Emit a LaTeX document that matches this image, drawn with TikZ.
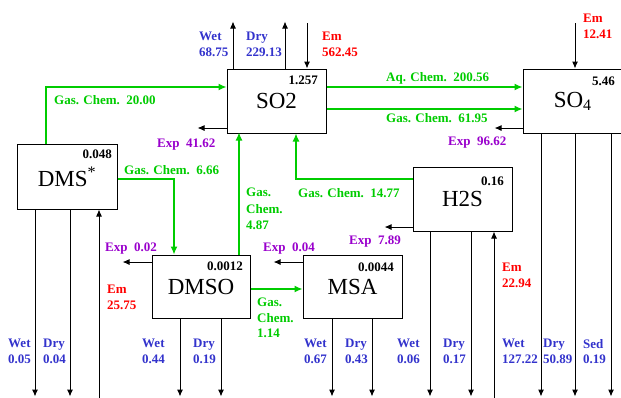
\documentclass[tikz,border=0pt]{standalone}
\usepackage{fontspec}
\setmainfont{Liberation Serif}
\usetikzlibrary{arrows.meta}
\definecolor{wblue}{RGB}{51,51,204}
\definecolor{ggreen}{RGB}{0,204,0}
\definecolor{epurple}{RGB}{153,0,204}
\definecolor{ered}{RGB}{255,0,0}
\begin{document}
\begin{tikzpicture}[x=1pt,y=-1pt,
  box/.style={draw,line width=1pt,rectangle,inner sep=0pt,fill=white,font=\fontsize{23}{23}\selectfont},
  lab/.style={anchor=north west,inner sep=0pt,align=left,font=\fontsize{13}{15.5}\selectfont\bfseries},
  num/.style={anchor=north east,inner sep=0pt,font=\fontsize{13}{13}\selectfont\bfseries},
  arr/.style={line width=1pt,-{Latex[length=7pt,width=6pt]}},
  rarr/.style={line width=1pt,{Latex[length=7pt,width=6pt]}-},
  garr/.style={line width=1.3pt,ggreen,-{Latex[length=8pt,width=7pt]}},
  exp/.style={line width=1pt,-{Latex[length=7pt,width=6pt]}},
  wet/.style={lab,text=wblue},
  gas/.style={lab,text=ggreen},
  expl/.style={lab,text=epurple},
  eml/.style={lab,text=ered}]
\useasboundingbox (0,0) rectangle (621,397);

% boxes
\node[box,minimum width=99pt,minimum height=64pt] (SO2) at (276.5,101) {SO2};
\node[box,minimum width=99pt,minimum height=64pt] (SO4) at (572.5,101) {SO\raisebox{-0.3ex}{\fontsize{16}{16}\selectfont 4}};
\node[box,minimum width=100pt,minimum height=65pt] (DMS) at (67,176.5) {DMS\textsuperscript{*}};
\node[box,minimum width=98pt,minimum height=63pt] (DMSO) at (201,286.5) {DMSO};
\node[box,minimum width=99pt,minimum height=63pt] (MSA) at (352.5,286.5) {MSA};
\node[box,minimum width=99pt,minimum height=64pt] (H2S) at (462.5,199) {H2S};

% burdens
\node[num] (nSO2) at (318,76) {1.257};
\node[num] (nSO4) at (615,77) {5.46};
\node[num] (nDMS) at (112,150) {0.048};
\node[num] (nDMSO) at (243,262) {0.0012};
\node[num] (nMSA) at (394,263) {0.0044};
\node[num] (nH2S) at (504,177) {0.16};

% green chemistry connectors
\draw[garr] ([xshift=-21pt]DMS.north) |- ([yshift=14pt]SO2.west);
\draw[garr] ([yshift=14pt]SO2.east) -- ([yshift=14pt]SO4.west);
\draw[garr] ([yshift=-8pt]SO2.east) -- ([yshift=-8pt]SO4.west);
\draw[garr] ([yshift=-2.5pt]DMS.east) -| ([xshift=-27pt]DMSO.north);
\draw[garr] ([xshift=38pt]DMSO.north) -- ++(0,-122);
\draw[garr] ([yshift=20pt]H2S.west) -| ([xshift=19.5pt]SO2.south);
\draw[garr] ([yshift=-2.5pt]DMSO.east) -- ([yshift=-2.5pt]MSA.west);

% export arrows
\draw[exp] ([yshift=-27pt]SO2.west) -- ++(-29,0);
\draw[exp] ([yshift=-27pt]SO4.west) -- ++(-28,0);
\draw[exp] ([yshift=24.5pt]DMSO.west) -- ++(-29,0);
\draw[exp] ([yshift=24.5pt]MSA.west) -- ++(-29,0);
\draw[exp] ([yshift=-28pt]H2S.west) -- ++(-28,0);

% top arrows
\draw[arr] ([xshift=-43.5pt]SO2.north) -- ++(0,-47);
\draw[arr] ([xshift=8.5pt]SO2.north) -- ++(0,-47);
\draw[rarr] ([xshift=30.5pt]SO2.north) -- ++(0,-46);
\draw[rarr] ([xshift=2.5pt]SO4.north) -- ++(0,-46);

% bottom arrows
\draw[arr] ([xshift=-32pt]DMS.south) -- ++(0,187);
\draw[arr] ([xshift=3pt]DMS.south) -- ++(0,187);
\draw[rarr] ([xshift=32pt]DMS.south) -- ++(0,189);
\draw[arr] ([xshift=-21pt]DMSO.south) -- ++(0,78);
\draw[arr] ([xshift=20pt]DMSO.south) -- ++(0,78);
\draw[arr] ([xshift=-20.5pt]MSA.south) -- ++(0,78);
\draw[arr] ([xshift=19.5pt]MSA.south) -- ++(0,78);
\draw[arr] ([xshift=-32.5pt]H2S.south) -- ++(0,165);
\draw[arr] ([xshift=8.5pt]H2S.south) -- ++(0,165);
\draw[rarr] ([xshift=31.5pt]H2S.south) -- ++(0,167);
\draw[arr] ([xshift=-31.5pt]SO4.south) -- ++(0,263);
\draw[arr] ([xshift=2.5pt]SO4.south) -- ++(0,263);
\draw[arr] ([xshift=38.5pt]SO4.south) -- ++(0,263);

% labels
\node[wet] (t1) at (199,32) {Wet\\68.75};
\node[wet] (t2) at (246,32) {Dry\\229.13};
\node[eml] (t3) at (322,32) {Em\\562.45};
\node[eml] (t4) at (583,14) {Em\\12.41};
\node[gas] (t5) at (54,95) {Gas. Chem.\ \ 20.00};
\node[gas] (t6) at (386,72) {Aq. Chem.\ \ 200.56};
\node[gas] (t7) at (386,113) {Gas. Chem.\ \ 61.95};
\node[expl] (t8) at (157,139) {Exp\ \ 41.62};
\node[expl] (t9) at (448,137) {Exp\ \ 96.62};
\node[gas] (t10) at (124,165) {Gas. Chem.\ \ 6.66};
\node[lab,text=ggreen,font=\fontsize{13}{16.5}\selectfont\bfseries] (t11) at (246,188) {Gas.\\Chem.\\4.87};
\node[gas] (t12) at (298,188) {Gas. Chem.\ \ 14.77};
\node[expl] (t13) at (349,236) {Exp\ \ 7.89};
\node[expl] (t14) at (105,243) {Exp\ \ 0.02};
\node[expl] (t15) at (263,243) {Exp\ \ 0.04};
\node[eml,font=\fontsize{13}{16}\selectfont\bfseries] (t16) at (107,285) {Em\\25.75};
\node[gas] (t17) at (257,298) {Gas.\\Chem.\\1.14};
\node[eml,font=\fontsize{13}{16}\selectfont\bfseries] (t18) at (502,263) {Em\\22.94};

\node[wet] (b1) at (8,339) {Wet\\0.05};
\node[wet] (b2) at (43,339) {Dry\\0.04};
\node[wet] (b3) at (142,339) {Wet\\0.44};
\node[wet] (b4) at (193,339) {Dry\\0.19};
\node[wet] (b5) at (304,339) {Wet\\0.67};
\node[wet] (b6) at (345,339) {Dry\\0.43};
\node[wet] (b7) at (397,339) {Wet\\0.06};
\node[wet] (b8) at (443,339) {Dry\\0.17};
\node[wet] (b9) at (502,339) {Wet\\127.22};
\node[wet] (b10) at (543,339) {Dry\\50.89};
\node[wet] (b11) at (583,339) {Sed\\0.19};
\end{tikzpicture}
\end{document}
